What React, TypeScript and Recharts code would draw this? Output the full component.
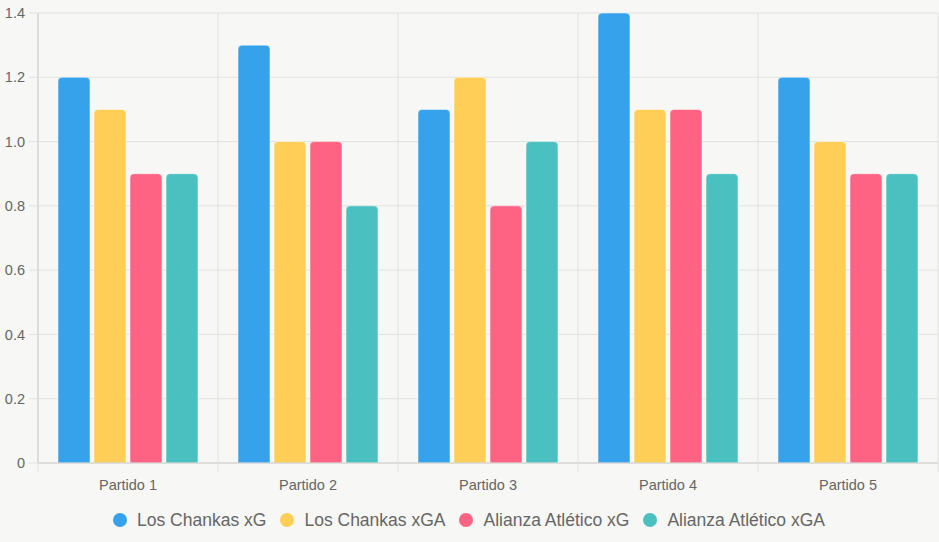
import { BarChart, Bar, XAxis, YAxis, CartesianGrid, Legend } from "recharts";

const partidos = ["Partido 1", "Partido 2", "Partido 3", "Partido 4", "Partido 5"];
const chankasXG = [1.2, 1.3, 1.1, 1.4, 1.2];
const chankasXGA = [1.1, 1.0, 1.2, 1.1, 1.0];
const alianzaXG = [0.9, 1.0, 0.8, 1.1, 0.9];
const alianzaXGA = [0.9, 0.8, 1.0, 0.9, 0.9];
const yTicks = [0, 0.2, 0.4, 0.6, 0.8, 1.0, 1.2, 1.4];

const series = [
  { key: "chankasXG", name: "Los Chankas xG", color: "#36A2EB", values: chankasXG },
  { key: "chankasXGA", name: "Los Chankas xGA", color: "#FFCE56", values: chankasXGA },
  { key: "alianzaXG", name: "Alianza Atlético xG", color: "#FF6384", values: alianzaXG },
  { key: "alianzaXGA", name: "Alianza Atlético xGA", color: "#4BC0C0", values: alianzaXGA },
];

const W = 939;
const H = 542;
const Y_AXIS_W = 38;
const RIGHT = 1;
const BAND = (W - Y_AXIS_W - RIGHT) / partidos.length;

const FONT = "'Liberation Sans', Arial, Helvetica, sans-serif";
const TEXT = "#666666";
const GRID = "#e1e1df";
const AXIS = "#cdcdcb";

// armar filas para recharts
const rows = partidos.map((p, i) => {
  const row: Record<string, string | number> = { partido: p };
  series.forEach(s => {
    row[s.key] = s.values[i];
  });
  return row;
});

// tick del eje X: texto centrado + marcas en los bordes de cada categoría
function XTick(props: any) {
  const { x, y, payload, index } = props;
  const last = index === partidos.length - 1;
  return (
    <g>
      <line x1={x - BAND / 2} x2={x - BAND / 2} y1={y - 9} y2={y} stroke={GRID} />
      {last && <line x1={x + BAND / 2} x2={x + BAND / 2} y1={y - 9} y2={y} stroke={GRID} />}
      <text x={x} y={y + 18} textAnchor="middle" fill={TEXT} fontSize={14.5} fontFamily={FONT}>
        {payload.value}
      </text>
    </g>
  );
}

function Leyenda() {
  return (
    <div
      style={{
        height: 30,
        display: "flex",
        justifyContent: "center",
        alignItems: "center",
        fontFamily: FONT,
        fontSize: 17.5,
        color: TEXT,
      }}
    >
      {series.map(s => (
        <div key={s.key} style={{ display: "flex", alignItems: "center", margin: "0 7px" }}>
          <span
            style={{
              width: 14,
              height: 14,
              borderRadius: "50%",
              background: s.color,
              display: "inline-block",
              marginRight: 10,
            }}
          />
          <span>{s.name}</span>
        </div>
      ))}
    </div>
  );
}

export default function App() {
  return (
    <div style={{ position: "fixed", left: 0, top: 0, width: W, height: H, background: "#f7f7f5" }}>
      <BarChart
        width={W}
        height={H}
        data={rows}
        margin={{ top: 13, right: RIGHT, left: 0, bottom: 7 }}
        barCategoryGap={20}
        barGap={4}
      >
        <CartesianGrid
          stroke={GRID}
          verticalCoordinatesGenerator={({ offset }: any) =>
            partidos.map((_, i) => offset.left + i * BAND).concat([offset.left + partidos.length * BAND])
          }
        />
        <XAxis
          dataKey="partido"
          height={42}
          tickSize={9}
          tickMargin={0}
          tickLine={false}
          axisLine={{ stroke: AXIS }}
          tick={<XTick />}
          interval={0}
        />
        <YAxis
          width={Y_AXIS_W}
          domain={[0, 1.4]}
          ticks={yTicks}
          interval={0}
          tickSize={9}
          tickMargin={4}
          tickLine={{ stroke: GRID }}
          axisLine={{ stroke: AXIS }}
          tick={{ fill: TEXT, fontSize: 14.5, fontFamily: FONT }}
          tickFormatter={(v: number) => (v === 0 ? "0" : v.toFixed(1))}
        />
        <Legend verticalAlign="bottom" height={30} content={() => <Leyenda />} />
        {series.map(s => (
          <Bar
            key={s.key}
            dataKey={s.key}
            name={s.name}
            fill={s.color}
            stroke="#ffffff"
            strokeOpacity={0.5}
            strokeWidth={1}
            radius={[4, 4, 0, 0]}
            isAnimationActive={false}
          />
        ))}
      </BarChart>
    </div>
  );
}
